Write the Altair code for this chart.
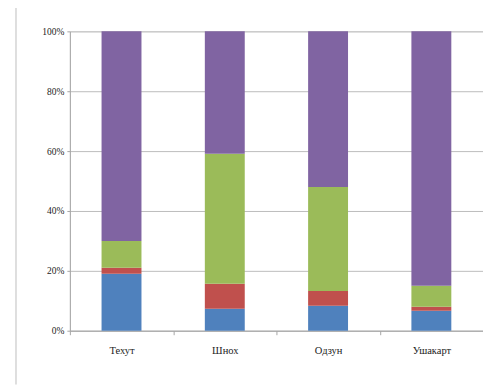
import altair as alt
import pandas as pd

categories = ["Техут", "Шнох", "Одзун", "Ушакарт"]
series = ["s1", "s2", "s3", "s4"]
colors = ["#4F81BD", "#C0504D", "#9BBB59", "#8064A2"]
s1 = [19.0, 7.3, 8.3, 6.7]
s2 = [2.0, 8.4, 5.0, 1.3]
s3 = [9.0, 43.4, 34.7, 7.0]
s4 = [70.0, 40.9, 52.0, 85.0]
y_ticks = [0, 20, 40, 60, 80, 100]

rows = []
for si, (name, vals) in enumerate(zip(series, [s1, s2, s3, s4])):
    for c, v in zip(categories, vals):
        rows.append({"cat": c, "series": name, "value": v, "ord": si})
df = pd.DataFrame(rows)

SERIF = "Liberation Serif"

bars = alt.Chart(df).mark_bar(size=40).encode(
    x=alt.X("cat:N", sort=categories, title=None,
            scale=alt.Scale(paddingInner=0, paddingOuter=0),
            axis=alt.Axis(labelAngle=0, labelFont=SERIF, labelFontSize=10.5,
                          labelColor="#222222", domainColor="#a6a6a6", tickColor="#a6a6a6",
                          tickBand="extent", tickSize=4, labelPadding=11, grid=False)),
    y=alt.Y("value:Q", stack="zero", title=None,
            scale=alt.Scale(domain=[0, 100], nice=False),
            axis=alt.Axis(values=y_ticks, labelExpr="datum.value + '%'",
                          labelFont=SERIF, labelFontSize=9.5, labelColor="#222222",
                          domainColor="#a6a6a6", tickColor="#a6a6a6", tickSize=3,
                          gridColor="#bdbdbd", labelPadding=3)),
    color=alt.Color("series:N", scale=alt.Scale(domain=series, range=colors), legend=None),
    order=alt.Order("ord:Q"),
)

one = pd.DataFrame({"a": [0]})
frame_top = alt.Chart(one).mark_rule(stroke="#d4d4d4", strokeWidth=1).encode(
    x=alt.value(-54), x2=alt.value(414), y=alt.value(-24)
)
frame_left = alt.Chart(one).mark_rule(stroke="#d4d4d4", strokeWidth=1.5).encode(
    x=alt.value(-54), y=alt.value(-24), y2=alt.value(354)
)

chart = alt.layer(frame_top, frame_left, bars).properties(
    width=414, height=300,
    autosize=alt.AutoSizeParams(type="none"),
    padding={"left": 62, "top": 23, "right": 0, "bottom": 55},
).configure_view(stroke=None).configure(background="white", font=SERIF)

chart.save("out.html", embed_options={"renderer": "svg", "actions": False})
